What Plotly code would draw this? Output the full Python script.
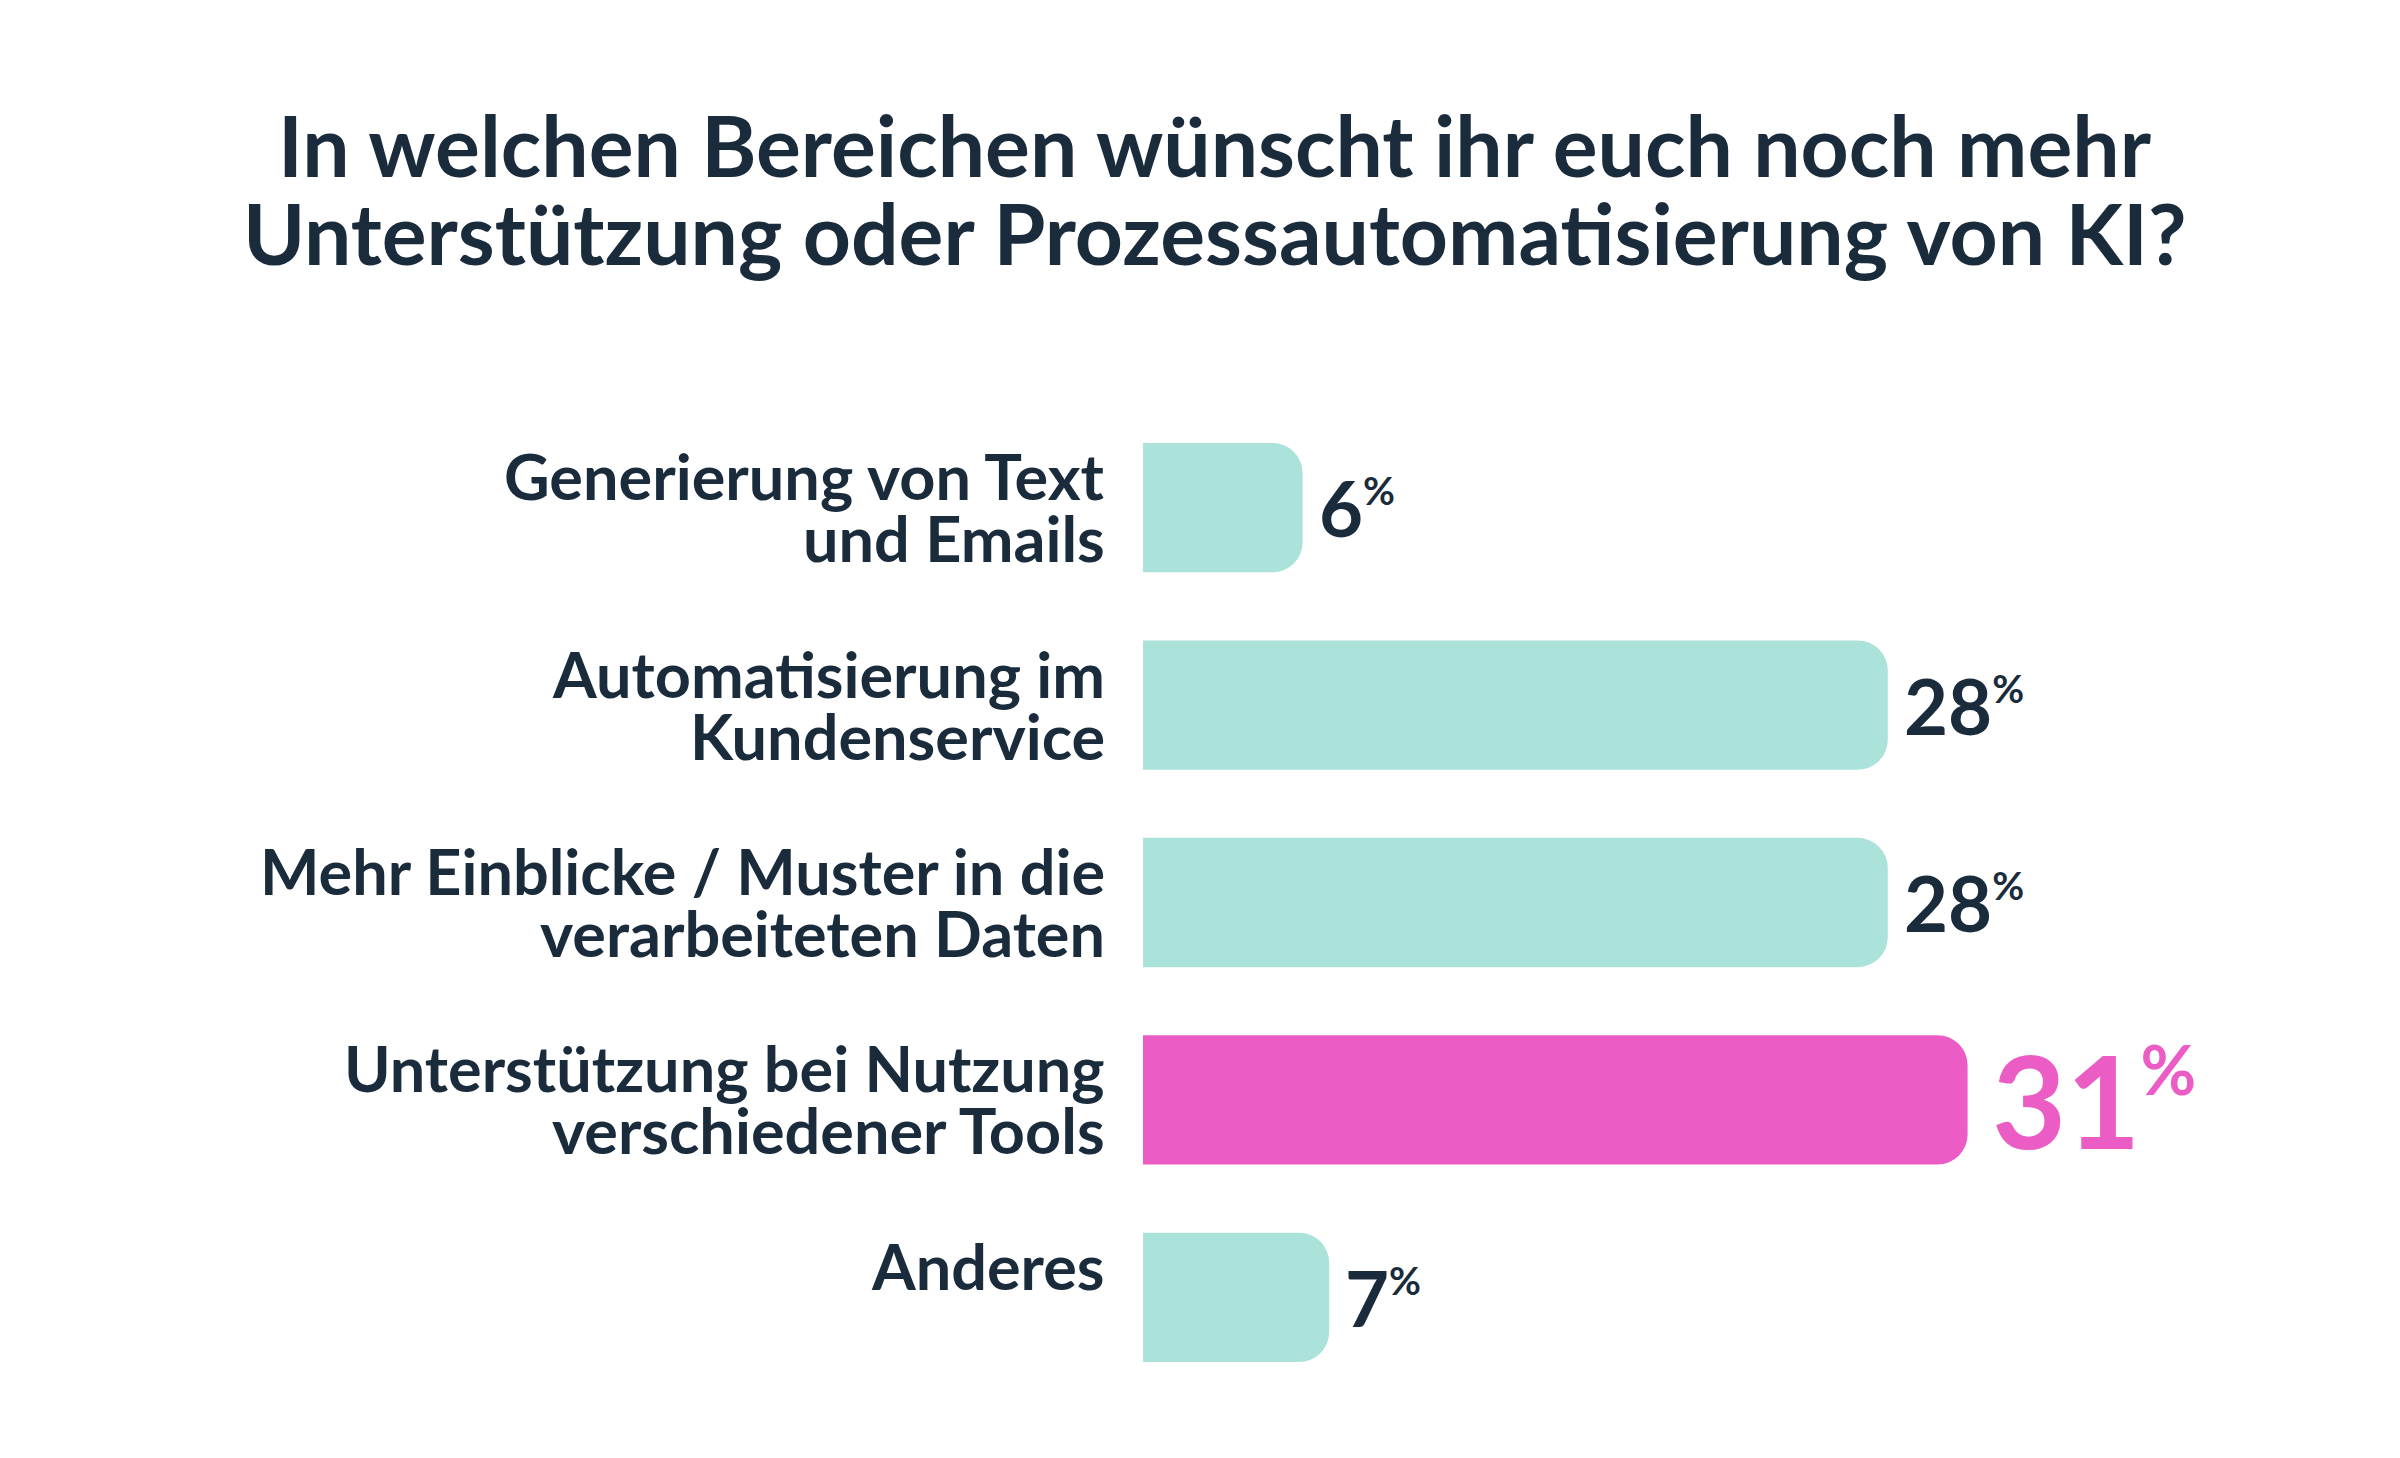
import plotly.graph_objects as go

TITLE_LINES = [
    "In welchen Bereichen wünscht ihr euch noch mehr",
    "Unterstützung oder Prozessautomatisierung von KI?",
]
CATEGORIES = [
    "Generierung von Text<br>und Emails",
    "Automatisierung im<br>Kundenservice",
    "Mehr Einblicke / Muster in die<br>verarbeiteten Daten",
    "Unterstützung bei Nutzung<br>verschiedener Tools",
    "Anderes",
]
VALUES = [6, 28, 28, 31, 7]
HIGHLIGHT = [False, False, False, True, False]

DARK = "#1a2b3c"
TEAL = "#abe3da"
PINK = "#ec5cc5"
FONT = "Lato"

W, H = 2400, 1458
M_L, M_R, M_T, M_B = 1135, 201, 401, 70
PLOT_W = W - M_L - M_R
PLOT_H = H - M_T - M_B

bar_colors = [PINK if h else TEAL for h in HIGHLIGHT]

fig = go.Figure(
    go.Bar(
        x=VALUES,
        y=CATEGORIES,
        orientation="h",
        marker=dict(color=bar_colors, cornerradius=30, line=dict(width=0)),
        hoverinfo="skip",
    )
)

annotations = []

# category labels, one annotation per line to keep the tight line spacing
for cat in CATEGORIES:
    for i, line in enumerate(cat.split("<br>")):
        annotations.append(
            dict(
                x=0, y=cat, xref="x", yref="y",
                text=line, showarrow=False,
                xanchor="right", yanchor="middle",
                xshift=-36, yshift=32 - i * 62,
                font=dict(family=FONT, size=63, color=DARK, weight=700),
            )
        )

# value labels
for cat, v, h in zip(CATEGORIES, VALUES, HIGHLIGHT):
    size = 128 if h else 76
    pct = 68 if h else 39
    color = PINK if h else DARK
    annotations.append(
        dict(
            x=v, y=cat, xref="x", yref="y",
            text=f"{v}<sup><span style='font-size:{pct}px'>%</span></sup>",
            showarrow=False, xanchor="left", yanchor="middle",
            xshift=22 if h else 14, yshift=0,
            font=dict(family=FONT, size=size, color=color, weight=700),
        )
    )

# title, centred on the image rather than on the plot area
title_x = (W / 2 + 7 - M_L) / PLOT_W
for line, py in zip(TITLE_LINES, [137, 225]):
    annotations.append(
        dict(
            x=title_x, y=(H - M_B - py) / PLOT_H, xref="paper", yref="paper",
            text=line, showarrow=False, xanchor="center", yanchor="middle",
            font=dict(family=FONT, size=84, color=DARK, weight=700),
        )
    )

fig.update_layout(
    width=W,
    height=H,
    margin=dict(l=M_L, r=M_R, t=M_T, b=M_B, pad=0),
    paper_bgcolor="white",
    plot_bgcolor="white",
    showlegend=False,
    bargap=0.345,
    xaxis=dict(range=[0, 40], visible=False, fixedrange=True),
    yaxis=dict(
        categoryorder="array", categoryarray=CATEGORIES,
        range=[4.5, -0.5], visible=False, fixedrange=True,
    ),
    annotations=annotations,
)

fig.write_html("out.html")
